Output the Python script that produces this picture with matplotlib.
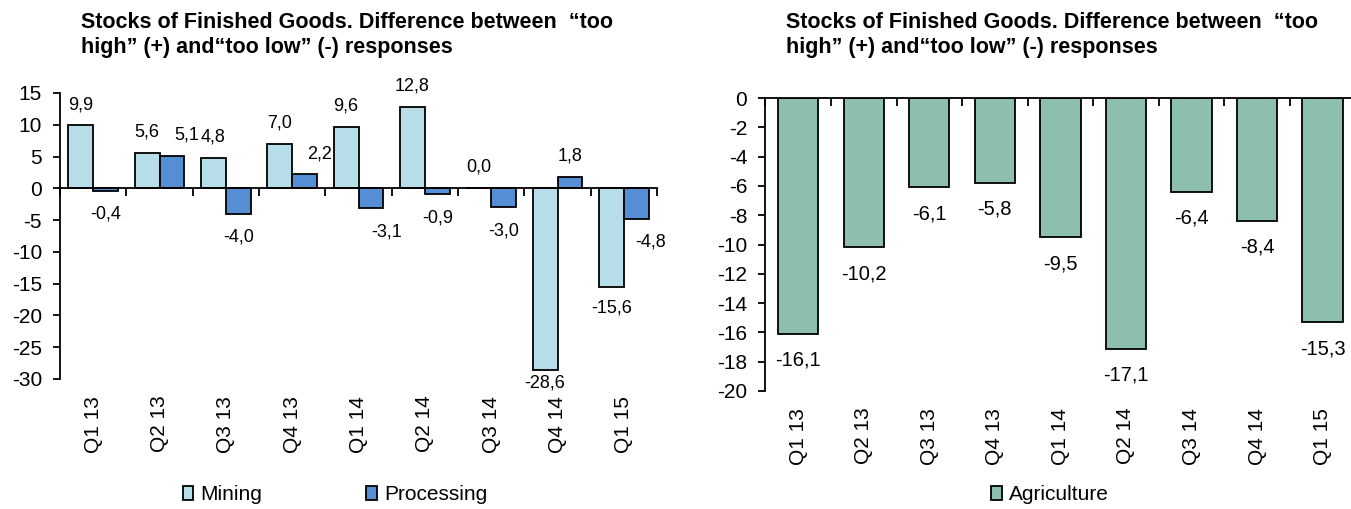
import matplotlib
matplotlib.use("Agg")
import matplotlib.pyplot as plt
import numpy as np

plt.rcParams['font.family'] = ['Liberation Sans', 'DejaVu Sans']
plt.rcParams['axes.unicode_minus'] = False

categories = ["Q1 13", "Q2 13", "Q3 13", "Q4 13", "Q1 14", "Q2 14", "Q3 14", "Q4 14", "Q1 15"]
mining = [9.9, 5.6, 4.8, 7.0, 9.6, 12.8, 0.0, -28.6, -15.6]
processing = [-0.4, 5.1, -4.0, 2.2, -3.1, -0.9, -3.0, 1.8, -4.8]
agriculture = [-16.1, -10.2, -6.1, -5.8, -9.5, -17.1, -6.4, -8.4, -15.3]

left_yticks = list(range(-30, 16, 5))
right_yticks = list(range(-20, 1, 2))

title = "Stocks of Finished Goods. Difference between  \u201ctoo\nhigh\u201d (+) and\u201ctoo low\u201d (-) responses"

c_mining = "#B7DDE8"
c_proc = "#558ED5"
c_agri = "#8CBFB0"

W, H = 1351, 509
fig = plt.figure(figsize=(W / 100, H / 100), dpi=100)

ax1 = fig.add_axes([60 / W, 1 - 379 / H, 597 / W, 286 / H])
ax2 = fig.add_axes([765.4 / W, 1 - 391 / H, 590 / W, 293 / H])

x = np.arange(len(categories))
bw = 0.375

def fmt(v):
    return f"{v:.1f}".replace(".", ",")

def style_axis(ax, yticks, zero_top):
    ax.set_xlim(-0.5, len(categories) - 0.5)
    ax.set_ylim(yticks[0], yticks[-1])
    ax.set_yticks(yticks)
    ax.set_yticklabels([str(t) for t in yticks])
    ax.tick_params(axis='y', direction='out', length=5, width=1.3, pad=8, labelsize=15)
    ax.spines['right'].set_visible(False)
    ax.spines['left'].set_linewidth(1.3)
    bounds = np.arange(len(categories) + 1) - 0.5
    if zero_top:
        ax.spines['bottom'].set_visible(False)
        ax.spines['top'].set_linewidth(1.3)
        ax.xaxis.set_ticks_position('top')
        ax.set_xticks(bounds)
        ax.set_xticklabels([])
        ax.tick_params(axis='x', direction='in', length=6, width=1.3)
    else:
        ax.spines['top'].set_visible(False)
        ax.spines['bottom'].set_position(('data', 0))
        ax.spines['bottom'].set_linewidth(1.3)
        ax.set_xticks(bounds)
        ax.set_xticklabels([])
        ax.tick_params(axis='x', direction='out', length=6, width=1.3)
    for i, c in enumerate(categories):
        ax.annotate(c, xy=(i, 0), xycoords=('data', 'axes fraction'),
                    xytext=(0, -12), textcoords='offset points',
                    rotation=90, ha='center', va='top', fontsize=15)

# Left panel
b1 = ax1.bar(x - bw / 2, mining, bw, color=c_mining, edgecolor='black', linewidth=1.3, label='Mining', zorder=2)
b2 = ax1.bar(x + bw / 2, processing, bw, color=c_proc, edgecolor='black', linewidth=1.3, label='Processing', zorder=2)
style_axis(ax1, left_yticks, zero_top=False)

proc_label_dx = {1: 11, 3: 11, 4: 11, 8: 10}
for i, v in enumerate(mining):
    dy = 15 if v >= 0 else -15
    if v == -28.6:
        dy = -9
    ax1.annotate(fmt(v), xy=(x[i] - bw / 2, v), xytext=(0, dy), textcoords='offset points',
                 ha='center', va='center', fontsize=13)
for i, v in enumerate(processing):
    dy = 15 if v >= 0 else -17
    ax1.annotate(fmt(v), xy=(x[i] + bw / 2, v), xytext=(proc_label_dx.get(i, 0), dy), textcoords='offset points',
                 ha='center', va='center', fontsize=13)

# Right panel
b3 = ax2.bar(x, agriculture, 0.615, color=c_agri, edgecolor='black', linewidth=1.3, label='Agriculture', zorder=2)
style_axis(ax2, right_yticks, zero_top=True)
for i, v in enumerate(agriculture):
    ax2.annotate(fmt(v), xy=(x[i], v), xytext=(0, -19), textcoords='offset points',
                 ha='center', va='center', fontsize=14.5)

# Titles
fig.text(81 / W, 1 - 12 / H, title, ha='left', va='top', fontsize=15.5, fontweight='bold', linespacing=1.25)
fig.text(786 / W, 1 - 12 / H, title, ha='left', va='top', fontsize=15.5, fontweight='bold', linespacing=1.25)

# Legends
leg_kw = dict(frameon=False, fontsize=15, handlelength=0.5, handleheight=0.65, handletextpad=0.35,
              borderaxespad=0, borderpad=0)
fig.legend(handles=[b1, b2], labels=['Mining', 'Processing'], ncol=2, columnspacing=5.0,
           loc='center', bbox_to_anchor=(335 / W, 1 - 495 / H), **leg_kw)
fig.legend(handles=[b3], labels=['Agriculture'], loc='center',
           bbox_to_anchor=(1050 / W, 1 - 495 / H), **leg_kw)

fig.savefig("out.png", dpi=100)
